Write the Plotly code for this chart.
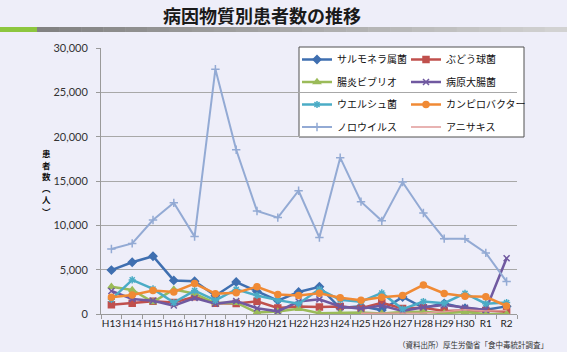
import plotly.graph_objects as go

years = ["H13","H14","H15","H16","H17","H18","H19","H20","H21","H22",
         "H23","H24","H25","H26","H27","H28","H29","H30","R1","R2"]

salmonella = [4949,5833,6517,3788,3700,2053,3603,2551,1518,2476,3068,670,861,440,1918,704,1183,640,476,861]
staph      = [1039,1221,1438,1298,1948,1220,1181,1424,690,836,792,854,654,1277,619,698,336,405,393,260]
vibrio     = [3065,2714,1342,2773,2301,1236,1278,168,280,579,87,124,164,47,224,240,97,222,0,3]
ecoli      = [2600,1700,1500,950,1800,1150,1450,650,300,1400,1650,850,600,950,350,750,1000,700,450,6284]
welchii    = [1656,3847,2824,1283,2643,1545,2772,2088,1566,1151,2784,1597,1392,2373,551,1411,1220,2319,1166,1288]
campylo    = [1880,2152,2642,2485,3439,2297,2396,3071,2206,2092,2341,1834,1551,1893,2089,3272,2315,1995,1937,901]
norovirus  = [7335,7961,10603,12537,8727,27616,18520,11618,10874,13904,8619,17632,12672,10506,14876,11397,8496,8475,6889,3660]
anisakis   = [None]*12 + [89,79,133,126,242,478,336,396]

names = ["サルモネラ属菌","ぶどう球菌","腸炎ビブリオ","病原大腸菌",
         "ウエルシュ菌","カンピロバクター","ノロウイルス","アニサキス"]
series = [salmonella, staph, vibrio, ecoli, welchii, campylo, norovirus, anisakis]
colors = ["#3F6FB0","#C0504D","#9BBB59","#7059A0","#4BACC6","#F08A35","#93AAD4","#E09A98"]
symbols = ["diamond","square","triangle-up","x-thin-open","asterisk-open","circle","cross-thin-open",None]
widths = [2.5,2.5,2.5,2.5,2.5,2.5,2,1.5]
legend_of = ["legend","legend2","legend","legend2","legend","legend2","legend","legend2"]

ytitle_chars = ["患","者","数","︵","人","︶"]

BG = "#EEEEF9"
W, H = 567, 352
L, R, T, B = 101, 50, 48, 38
PW, PH = W - L - R, H - T - B

def px(x):
    return (x - L) / PW

def py(y):
    return (H - B - y) / PH

fig = go.Figure()
for i, (nm, vals) in enumerate(zip(names, series)):
    mode = "lines+markers" if symbols[i] else "lines"
    marker = dict(symbol=symbols[i], size=6, color=colors[i],
                  line=dict(color=colors[i], width=1.5)) if symbols[i] else None
    fig.add_trace(go.Scatter(
        x=years, y=vals, name=nm, mode=mode,
        line=dict(color=colors[i], width=widths[i]),
        marker=marker, legend=legend_of[i], legendgroup=nm,
        connectgaps=False,
    ))

legend_font = dict(family="Noto Sans CJK JP", size=10, color="#111")
fig.update_layout(
    width=W, height=H,
    margin=dict(l=L, r=R, t=T, b=B),
    paper_bgcolor=BG, plot_bgcolor=BG,
    showlegend=True,
    legend=dict(x=px(297), y=py(45), xanchor="left", yanchor="top",
                bgcolor="rgba(0,0,0,0)", font=legend_font,
                tracegroupgap=3.5, traceorder="grouped"),
    legend2=dict(x=px(406), y=py(45), xanchor="left", yanchor="top",
                 bgcolor="rgba(0,0,0,0)", font=legend_font,
                 tracegroupgap=3.5, traceorder="grouped"),
    xaxis=dict(type="category", range=[-0.5, 19.5], showgrid=False,
               showline=True, linecolor="#9A9A9A", linewidth=1,
               ticks="outside", tickson="boundaries", ticklen=4, tickcolor="#9A9A9A",
               tickfont=dict(family="Lato", size=10, color="#222"), tickangle=0),
    yaxis=dict(range=[0, 30000], tickvals=[0,5000,10000,15000,20000,25000,30000],
               tickformat=",d", showgrid=True, gridcolor="#A8A8A8", gridwidth=1,
               showline=True, linecolor="#9A9A9A", linewidth=1, zeroline=False,
               ticks="outside", ticklen=4, tickcolor="#9A9A9A",
               tickfont=dict(family="Lato", size=11, color="#333"), ticklabelstandoff=6),
)

shapes = [
    dict(type="rect", xref="paper", yref="paper", x0=px(299), x1=px(524), y0=py(137), y1=py(47),
         fillcolor="white", line=dict(color="#505050", width=1), layer="below"),
    dict(type="rect", xref="paper", yref="paper", x0=px(0), x1=px(37), y0=py(32), y1=py(27),
         fillcolor="#8DC63F", line=dict(width=0)),
]
steps = 24
for k in range(steps):
    x0 = 37 + (567 - 37) * k / steps
    x1 = 37 + (567 - 37) * (k + 1) / steps
    g = int(130 + (210 - 130) * k / (steps - 1))
    shapes.append(dict(type="rect", xref="paper", yref="paper", x0=px(x0), x1=px(x1 + 0.5),
                       y0=py(32), y1=py(27), fillcolor=f"rgb({g},{g},{g})", line=dict(width=0)))
fig.update_layout(shapes=shapes)

fig.add_annotation(text="<b>病因物質別患者数の推移</b>", xref="paper", yref="paper",
                   x=px(262), y=py(15), xanchor="center", yanchor="middle", showarrow=False,
                   font=dict(family="Noto Sans CJK JP", size=18, color="#1A1A1A"))
for k, ch in enumerate(ytitle_chars):
    fig.add_annotation(text=f"<b>{ch}</b>", xref="paper", yref="paper",
                       x=px(47), y=py(153 + 11.5 * k), xanchor="center", yanchor="middle",
                       showarrow=False,
                       font=dict(family="Noto Sans CJK JP", size=8.5, color="#111"))
fig.add_annotation(text="（資料出所）厚生労働省「食中毒統計調査」", xref="paper", yref="paper",
                   x=px(396), y=py(344), xanchor="left", yanchor="middle", showarrow=False,
                   font=dict(family="Noto Sans CJK JP", size=7.5, color="#333"))

fig.write_html("out.html")
